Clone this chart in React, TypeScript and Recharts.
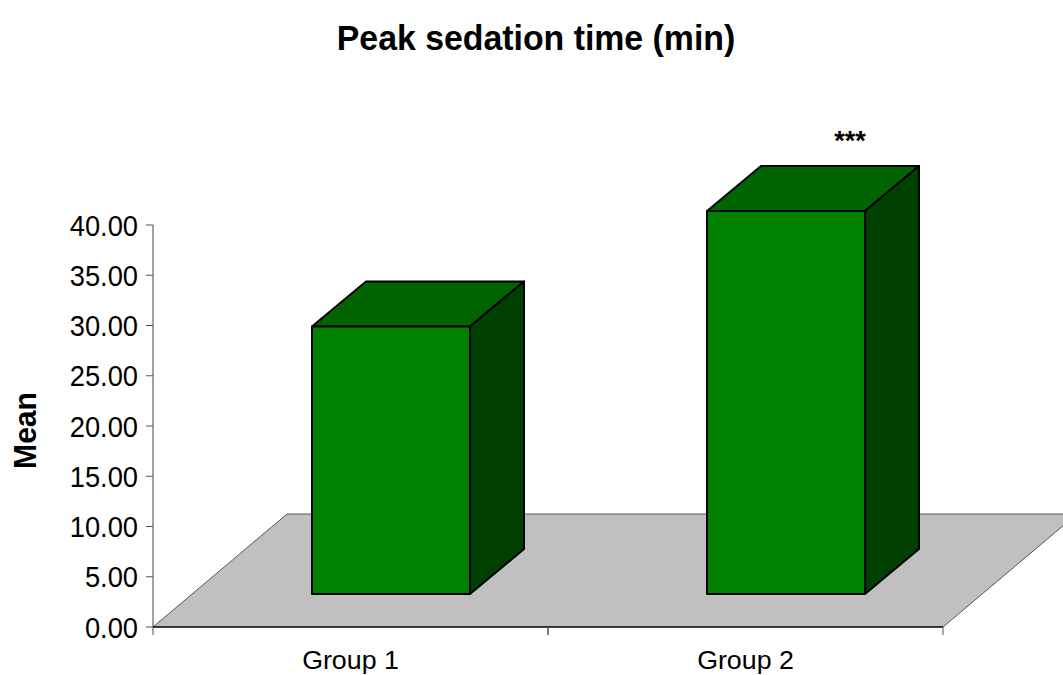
import { BarChart, Bar, XAxis, YAxis, ReferenceArea, ReferenceLine, LabelList } from 'recharts';

const groups = ['Group 1', 'Group 2'];
const means = [29.9, 41.4];
const marks = ['', '***'];
const yTicks = [0, 5, 10, 15, 20, 25, 30, 35, 40];

const data = groups.map((name, i) => ({ name, mean: means[i], mark: marks[i] }));

const FONT = '"Liberation Sans", Arial, sans-serif';
const BAND_WIDTH = 395;
// depth of the box and of the floor, and how far the floor lifts each bar
const DEPTH_X = 54;
const DEPTH_Y = 45;
const BAR_SHIFT = 40;
const FLOOR_LIFT = 33;
const FLOOR_DX = 134;

// front, top and side faces of one box
const Box3D = (props: any) => {
  const { x, y, width, height } = props;
  const left = x + BAR_SHIFT;
  const right = left + width;
  const bottom = y + height - FLOOR_LIFT;
  const line = { stroke: '#000', strokeWidth: 2, strokeLinejoin: 'round' as const };
  return (
    <g>
      <polygon
        points={`${left},${y} ${left + DEPTH_X},${y - DEPTH_Y} ${right + DEPTH_X},${y - DEPTH_Y} ${right},${y}`}
        fill="#006400"
        {...line}
      />
      <polygon
        points={`${right},${y} ${right + DEPTH_X},${y - DEPTH_Y} ${right + DEPTH_X},${bottom - DEPTH_Y} ${right},${bottom}`}
        fill="#004000"
        {...line}
      />
      <rect x={left} y={y} width={width} height={bottom - y} fill="#008000" {...line} />
    </g>
  );
};

const Floor = (props: any) => {
  const { x, y, width, height } = props;
  const bottom = y + height;
  return (
    <g>
      <polygon
        points={`${x},${bottom} ${x + FLOOR_DX},${y} ${x + width + FLOOR_DX},${y} ${x + width},${bottom}`}
        fill="#c0c0c0"
      />
      <path
        d={`M${x},${bottom} L${x + FLOOR_DX},${y} L${x + width + FLOOR_DX},${y} L${x + width},${bottom}`}
        fill="none"
        stroke="#555"
        strokeWidth={1}
      />
    </g>
  );
};

// the fonts run a little narrower or wider than their natural set width
const ScaledText = (props: any) => {
  const { x, y, scaleX, rotate, children, ...rest } = props;
  const turn = rotate ? `rotate(${rotate}) ` : '';
  return (
    <text
      transform={`translate(${x} ${y}) ${turn}scale(${scaleX} 1)`}
      fontFamily={FONT}
      fill="#000"
      {...rest}
    >
      {children}
    </text>
  );
};

// category label, plus the tick marks that sit on the band edges
const GroupTick = (props: any) => {
  const { x, y, payload } = props;
  return (
    <g>
      <line x1={x - BAND_WIDTH / 2} x2={x - BAND_WIDTH / 2} y1={y - 8} y2={y} stroke="#555" />
      <line x1={x + BAND_WIDTH / 2} x2={x + BAND_WIDTH / 2} y1={y - 8} y2={y} stroke="#555" />
      <ScaledText x={x} y={y + 33.5} scaleX={1.03} textAnchor="middle" fontSize={26}>
        {payload.value}
      </ScaledText>
    </g>
  );
};

const MeanTick = (props: any) => {
  const { x, y, payload } = props;
  return (
    <ScaledText x={x - 1} y={y + 10.5} scaleX={0.91} textAnchor="end" fontSize={30}>
      {payload.value.toFixed(2)}
    </ScaledText>
  );
};

const MarkLabel = (props: any) => {
  const { x, y, width, value } = props;
  if (!value) return null;
  return (
    <text
      x={x + width / 2 + 104}
      y={y - 60.5}
      textAnchor="middle"
      fontFamily={FONT}
      fontSize={27}
      fontWeight="bold"
      fill="#000"
    >
      {value}
    </text>
  );
};

export default function App() {
  return (
    <div style={{ position: 'absolute', left: 0, top: 0, width: 1063, height: 675, background: '#fff', overflow: 'hidden' }}>
      <BarChart
        width={1063}
        height={675}
        data={data}
        margin={{ top: 124.5, right: 120, bottom: 0, left: 0 }}
        barSize={158}
      >
        <ScaledText x={536} y={50} scaleX={0.94} textAnchor="middle" fontSize={36} fontWeight="bold">
          Peak sedation time (min)
        </ScaledText>
        <ScaledText x={35.5} y={430.5} rotate={-90} scaleX={0.97} textAnchor="middle" fontSize={31} fontWeight="bold">
          Mean
        </ScaledText>
        <XAxis
          dataKey="name"
          height={48}
          tick={<GroupTick />}
          tickLine={false}
          axisLine={{ stroke: '#000', strokeWidth: 1.5 }}
          interval={0}
        />
        <YAxis
          width={153}
          domain={[0, 50]}
          ticks={yTicks}
          tick={<MeanTick />}
          tickLine={{ stroke: '#555' }}
          tickSize={7}
          tickMargin={7}
          axisLine={false}
        />
        <ReferenceArea y1={0} y2={11.24} shape={<Floor />} ifOverflow="visible" />
        <ReferenceLine
          segment={[
            { x: groups[0], y: 0 },
            { x: groups[0], y: 40 },
          ]}
          position="start"
          stroke="#444"
          strokeWidth={1}
        />
        <Bar dataKey="mean" shape={<Box3D />} isAnimationActive={false}>
          <LabelList dataKey="mark" content={<MarkLabel />} />
        </Bar>
      </BarChart>
    </div>
  );
}
